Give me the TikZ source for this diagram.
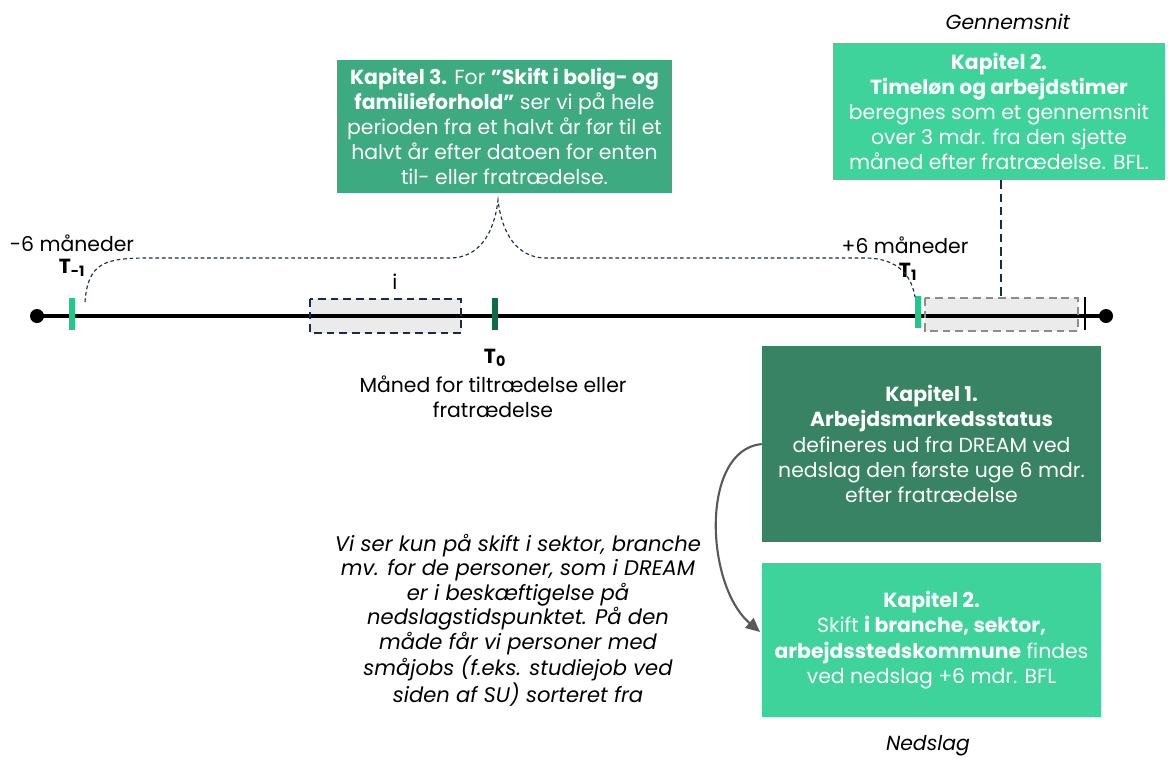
\documentclass[tikz,border=0pt]{standalone}
\usepackage{fontspec}
\setmainfont{Poppins}
\usetikzlibrary{positioning,arrows.meta}
\definecolor{lysgroen}{HTML}{1FC98A}
\definecolor{moerkgroen}{HTML}{0E6B45}
\definecolor{kapmid}{HTML}{3DAA81}
\definecolor{kaplys}{HTML}{3ED39A}
\definecolor{kapmoerk}{HTML}{378363}
\definecolor{navy}{HTML}{1B2A4A}
\definecolor{lysgraa}{HTML}{EBEBEB}
\definecolor{pilgraa}{HTML}{595959}
\newcommand{\tekst}{\fontsize{14.5}{17.9}\selectfont}
\newcommand{\noteskrift}{\fontsize{15}{17.4}\selectfont\itshape}
\tikzset{
  kapbox/.style={text=white, align=center, inner sep=0pt, font=\tekst},
  tickbar/.style={minimum width=0.15cm, minimum height=0.82cm, inner sep=0pt},
  label/.style={font=\tekst, inner sep=0pt, align=center},
  brace/.style={navy, line width=0.8pt, dash pattern=on 2.6pt off 2pt},
}
\begin{document}
\begin{tikzpicture}[x=0.025cm,y=-0.025cm]
  \useasboundingbox (0,0) rectangle (1168,758);
  % tidslinje
  \coordinate (start) at (37,316);
  \coordinate (slut) at (1106,316);
  \fill[lysgraa] (310,299) rectangle (461,333);
  \fill[lysgraa] (925,298) rectangle (1078,331);
  \draw[line width=2.2pt] (start) -- (slut);
  \fill[black] (start) circle (7);
  \fill[black] (slut) circle (7);
  \draw[navy, line width=1.5pt, dash pattern=on 5.5pt off 3.5pt] (310,299) rectangle (461,333);
  \draw[gray!90, line width=1.5pt, dash pattern=on 5.5pt off 3.5pt] (925,298) rectangle (1078,331);
  \draw[line width=1.4pt] (1085,297) -- (1085,330);
  \node[tickbar, fill=lysgroen] (tm1) at (72,314) {};
  \node[tickbar, fill=moerkgroen] (t0) at (495,314) {};
  \node[tickbar, fill=lysgroen] (t1) at (918,312) {};
  % etiketter
  \node[label] (m6) at (72,243) {-6 måneder};
  \node[label] (lm1) at (72,268) {\textbf{T\textsubscript{-1}}};
  \node[label] (p6) at (905,245) {+6 måneder};
  \node[label] (l1) at (908,272) {\textbf{T\textsubscript{1}}};
  \node[label] (ilab) at (395,282) {i};
  \node[label] (l0) at (495,358) {\textbf{T\textsubscript{0}}};
  \node[label] (maaned) at (493,397) {Måned for tiltrædelse eller\\fratrædelse};
  \node[label] (gns) at (1008,22) {\textit{Gennemsnit}};
  \node[label] (nedslag) at (928,746) {\textit{Nedslag}};
  % bokse
  \node[kapbox, fill=kapmid, minimum width=8.375cm, minimum height=3.325cm] (kap3) at (504.5,126.5)
    {\textbf{Kapitel 3.} For \textbf{”Skift i bolig- og}\\\textbf{familieforhold”} ser vi på hele\\perioden fra et halvt år før til et\\halvt år efter datoen for enten\\til- eller fratrædelse.};
  \node[kapbox, fill=kaplys, minimum width=8.3cm, minimum height=3.425cm] (kap2top) at (999,111.5)
    {\textbf{Kapitel 2.}\\\textbf{Timeløn og arbejdstimer}\\beregnes som et gennemsnit\\over 3 mdr. fra den sjette\\måned efter fratrædelse. BFL.};
  \node[kapbox, fill=kapmoerk, minimum width=8.475cm, minimum height=4.9cm] (kap1) at (931.5,444)
    {\textbf{Kapitel 1.}\\\textbf{Arbejdsmarkedsstatus}\\defineres ud fra DREAM ved\\nedslag den første uge 6 mdr.\\efter fratrædelse};
  \node[kapbox, fill=kaplys, minimum width=8.475cm, minimum height=3.85cm] (kap2bund) at (931.5,640)
    {\textbf{Kapitel 2.}\\Skift \textbf{i branche, sektor,}\\\textbf{arbejdsstedskommune} findes\\ved nedslag +6 mdr. BFL};
  \node[label, font=\noteskrift] (note) at (518,620)
    {Vi ser kun på skift i sektor, branche\\mv. for de personer, som i DREAM\\er i beskæftigelse på\\nedslagstidspunktet. På den\\måde får vi personer med\\småjobs (f.eks. studiejob ved\\siden af SU) sorteret fra};
  % forbindelser
  \draw[brace] (85,302) .. controls (88,262) and (105,258) .. (150,258) -- (450,258)
    .. controls (478,258) and (494,235) .. (498,200)
    .. controls (502,235) and (518,258) .. (546,258) -- (865,258)
    .. controls (900,258) and (912,278) .. (915,297);
  \draw[navy, line width=1.4pt, dash pattern=on 6pt off 3.5pt] (kap2top.south -| 1001,0) -- (1001,298);
  \draw[pilgraa, line width=1.5pt, -{Triangle[length=10pt,width=9pt]}] (kap1.west) .. controls (700,450) and (705,585) .. (760,632);
\end{tikzpicture}
\end{document}
